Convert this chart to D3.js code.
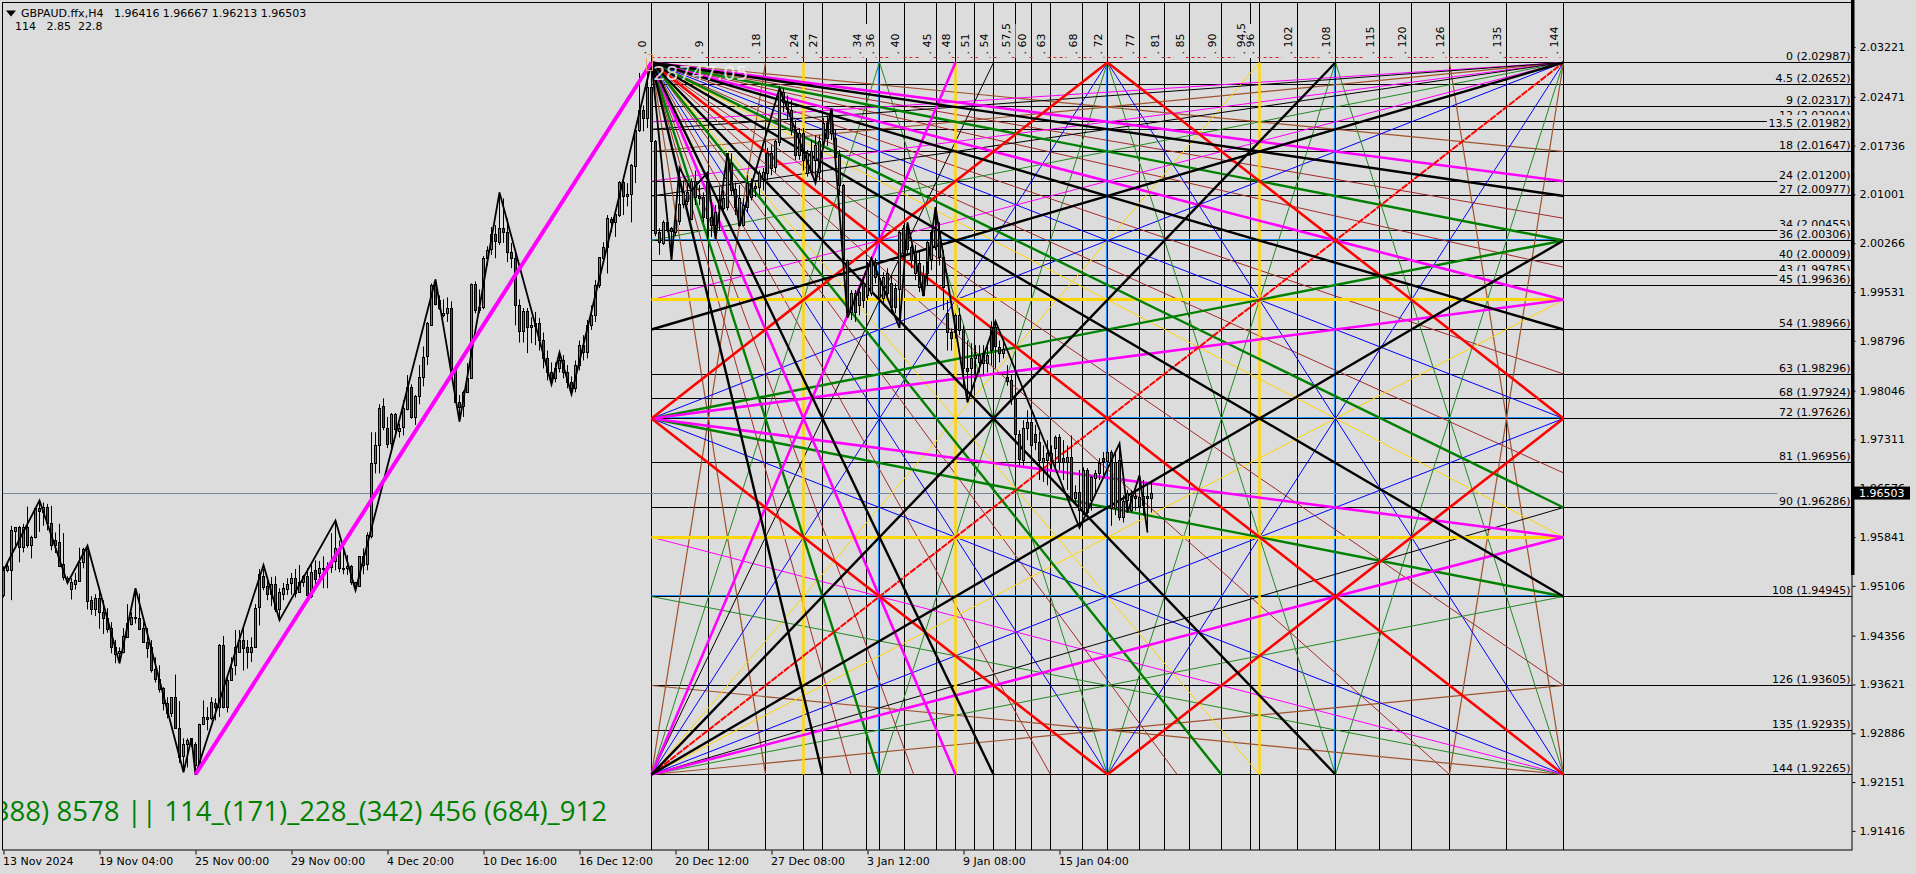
<!DOCTYPE html>
<html><head><meta charset="utf-8">
<script src="https://cdn.jsdelivr.net/npm/d3@7/dist/d3.min.js"></script>
<style>
html,body{margin:0;padding:0;background:#dcdcdc;overflow:hidden}
svg{display:block}
text{font-family:'DejaVu Sans',sans-serif;font-size:11px;fill:#000}
</style></head><body><svg id="c" width="1916" height="874"></svg>
<script>
// Candles, in 1/10000 of a price unit, one entry per H4 bar
const opens=[19497,19534,19534,19592,19598,19568,19598,19571,19583,19627,19621,19628,
19604,19579,19576,19542,19522,19505,19513,19518,19546,19566,19489,19475,
19492,19471,19462,19447,19418,19408,19411,19433,19453,19463,19462,19447,
19426,19417,19385,19370,19356,19334,19319,19343,19296,19253,19271,19280,
19271,19239,19302,19313,19311,19334,19328,19421,19328,19368,19391,19411,
19429,19418,19411,19418,19477,19525,19509,19497,19512,19474,19498,19505,
19515,19522,19500,19515,19524,19495,19533,19530,19537,19536,19539,19548,
19567,19537,19536,19539,19515,19510,19555,19542,19585,19695,19722,19780,
19748,19724,19768,19743,19748,19777,19810,19765,19796,19825,19855,19903,
19963,19941,19918,19921,19929,19838,19787,19781,19802,19823,19965,19926,
19930,20004,20016,20039,20027,20048,20042,20013,20004,19933,19894,19924,
19900,19902,19906,19880,19853,19832,19823,19838,19850,19832,19817,19808,
19843,19873,19862,19903,19918,19963,20004,20020,20063,20058,20069,20118,
20097,20100,20143,20197,20227,20215,20261,20180,20042,20027,20058,20048,
20043,20060,20085,20103,20063,20120,20097,20096,20118,20066,20054,20091,
20079,20081,20147,20108,20054,20054,20081,20117,20112,20111,20124,20132,
20162,20140,20179,20253,20238,20227,20197,20159,20192,20132,20133,20152,
20132,20179,20207,20227,20185,20159,20113,20001,19923,19951,19933,19966,
19948,19951,19998,19974,19944,19981,19966,19959,19956,20049,20051,20020,
19981,19996,19978,19981,20001,20046,20042,20005,19921,19892,19892,19896,
19896,19838,19838,19853,19847,19861,19846,19899,19899,19870,19861,19825,
19820,19792,19738,19700,19748,19757,19739,19727,19697,19700,19710,19718,
19734,19703,19697,19704,19642,19651,19624,19685,19639,19673,19680,19703,
19698,19712,19627,19700,19614,19638,19624,19645,19644,19632,19645,19642];
const highs=[19540,19546,19601,19598,19601,19604,19630,19586,19628,19639,19636,19634,
19631,19591,19604,19590,19525,19522,19530,19568,19568,19571,19495,19498,
19504,19489,19477,19456,19429,19418,19447,19483,19471,19507,19499,19456,
19447,19429,19403,19391,19358,19343,19343,19377,19337,19281,19281,19281,
19275,19303,19338,19328,19343,19341,19423,19435,19373,19403,19444,19444,
19447,19429,19433,19483,19536,19536,19519,19524,19525,19507,19515,19522,
19530,19536,19542,19527,19537,19542,19549,19548,19555,19546,19590,19609,
19579,19564,19557,19542,19516,19555,19567,19591,19742,19742,19784,19793,
19765,19771,19771,19755,19790,19828,19814,19798,19843,19871,19908,19966,
19972,19948,19942,19945,19939,19841,19798,19805,19846,19966,19969,19957,
20007,20022,20051,20054,20103,20094,20064,20027,20016,19942,19929,19929,
19915,19923,19914,19892,19865,19847,19847,19862,19858,19843,19826,19850,
19880,19888,19911,19933,19971,20005,20028,20069,20066,20072,20120,20121,
20117,20146,20200,20283,20234,20287,20299,20182,20049,20061,20066,20051,
20067,20140,20121,20121,20124,20136,20114,20103,20133,20087,20084,20111,
20106,20162,20162,20118,20114,20094,20129,20124,20118,20136,20140,20170,
20174,20182,20260,20260,20249,20242,20212,20200,20200,20167,20182,20189,
20189,20215,20219,20230,20197,20167,20116,20002,19956,19956,19963,19974,
19998,20004,20004,19986,19983,19989,19977,19966,20046,20054,20058,20024,
20024,20016,19993,20031,20046,20081,20058,20016,19941,19898,19921,19929,
19903,19880,19876,19873,19873,19873,19877,19909,19909,19880,19877,19843,
19828,19798,19745,19760,19775,19775,19753,19742,19722,19730,19722,19737,
19739,19730,19722,19737,19662,19685,19689,19688,19676,19685,19703,19712,
19715,19715,19710,19725,19647,19655,19655,19655,19677,19670,19662,19667];
const lows=[19493,19531,19489,19571,19546,19561,19568,19552,19582,19592,19601,19594,
19564,19560,19539,19519,19515,19490,19505,19518,19537,19475,19467,19465,
19446,19438,19440,19409,19394,19394,19409,19432,19451,19454,19444,19425,
19402,19380,19365,19350,19323,19311,19313,19295,19244,19230,19237,19268,
19226,19233,19301,19293,19308,19308,19313,19326,19320,19368,19376,19411,
19383,19386,19396,19417,19451,19504,19489,19480,19471,19459,19489,19497,
19497,19493,19500,19509,19492,19492,19505,19519,19507,19507,19530,19534,
19531,19528,19527,19512,19504,19509,19528,19534,19582,19680,19680,19745,
19718,19718,19741,19734,19737,19775,19762,19753,19784,19811,19843,19902,
19933,19926,19915,19908,19834,19786,19758,19765,19801,19822,19921,19921,
19927,19993,20009,20004,20024,20027,19998,19989,19903,19877,19877,19861,
19876,19873,19865,19838,19820,19814,19817,19832,19823,19808,19799,19802,
19835,19850,19853,19896,19908,19959,20001,19981,20043,20036,20066,20069,
20082,20058,20117,20194,20195,20200,20174,20037,20009,20024,20043,20001,
20037,20054,20079,20084,20061,20084,20084,20058,20031,20036,20033,20046,
20069,20076,20099,20069,20052,20052,20073,20091,20096,20099,20106,20121,
20129,20133,20173,20224,20212,20189,20152,20152,20136,20127,20129,20117,
20121,20173,20173,20182,20144,20099,19993,19914,19911,19908,19918,19929,
19941,19947,19966,19938,19933,19941,19921,19921,19899,20001,20009,19989,
19971,19953,19947,19963,19986,20016,19993,19926,19865,19865,19883,19888,
19812,19787,19798,19820,19832,19828,19832,19843,19838,19847,19853,19812,
19783,19730,19692,19692,19730,19715,19715,19670,19667,19662,19685,19688,
19685,19670,19655,19639,19632,19598,19617,19618,19624,19647,19670,19677,
19685,19601,19617,19609,19606,19621,19621,19624,19621,19617,19591,19621];
const closes=[19534,19540,19594,19598,19568,19598,19571,19583,19627,19622,19628,19604,
19571,19571,19540,19522,19518,19515,19519,19546,19566,19487,19475,19492,
19471,19462,19446,19418,19408,19411,19435,19454,19463,19462,19446,19426,
19417,19383,19370,19355,19334,19319,19343,19296,19253,19271,19277,19271,
19239,19302,19313,19310,19335,19328,19421,19328,19368,19386,19418,19429,
19417,19411,19418,19477,19527,19509,19497,19512,19474,19500,19507,19513,
19522,19500,19515,19524,19495,19531,19519,19537,19536,19539,19548,19567,
19537,19536,19539,19515,19509,19555,19542,19586,19695,19722,19778,19748,
19724,19768,19745,19748,19777,19810,19765,19796,19825,19855,19905,19963,
19935,19929,19921,19929,19837,19787,19779,19802,19823,19965,19926,19930,
20004,20016,20039,20028,20048,20042,20012,20004,19933,19894,19924,19900,
19903,19906,19880,19853,19832,19823,19838,19850,19832,19817,19808,19843,
19873,19862,19903,19918,19963,20005,20020,20064,20058,20070,20118,20097,
20100,20144,20197,20227,20215,20261,20179,20042,20027,20058,20048,20043,
20061,20085,20103,20090,20120,20096,20094,20066,20064,20054,20073,20079,
20094,20162,20106,20081,20094,20084,20117,20096,20109,20132,20133,20162,
20140,20179,20257,20238,20227,20197,20159,20192,20152,20162,20164,20174,
20179,20207,20185,20192,20156,20114,20001,19923,19951,19923,19953,19941,
19989,20001,19975,19945,19975,19951,19930,19930,20042,20012,20016,20001,
20012,19960,19948,20027,20042,20020,20005,19960,19892,19883,19918,19918,
19838,19834,19853,19858,19858,19846,19858,19865,19870,19861,19867,19819,
19792,19738,19700,19748,19757,19722,19727,19700,19703,19710,19703,19734,
19697,19697,19704,19642,19651,19624,19685,19621,19673,19680,19695,19698,
19712,19628,19697,19614,19638,19649,19645,19642,19630,19645,19642,19650];

// ZigZag indicator vertices
const zigBars=[0,9,16,21,29,33,45,47,48,65,69,83,88,108,114,124,137,139,142,162,167,169,172,176,178,181,184,194,203,207,211,217,224,226,230,233,241,248,269,279,281,284,286];
const zigPrices=[19534,19639,19515,19571,19394,19507,19230,19281,19226,19542,19459,19609,19504,19972,19758,20103,19814,19862,19799,20299,20001,20140,20106,20133,20033,20162,20052,20260,20117,20230,19914,20004,19899,20058,19947,20081,19787,19909,19598,19725,19621,19677,19591];

// The swing that the square is built on
const swingBars=[48,162];
const swingPrices=[1.92265,2.02987];

// Square levels
const levelNames=[0,4.5,9,12,13.5,18,24,27,34,36,40,43,45,54,63,68,72,81,90,108,126,135,144];
const levelPrices=["2.02987","2.02652","2.02317","2.02094","2.01982","2.01647","2.01200","2.00977","2.00455","2.00306","2.00009","1.99785","1.99636","1.98966","1.98296","1.97924","1.97626","1.96956","1.96286","1.94945","1.93605","1.92935","1.92265"];
const timeLevels=[0,9,18,24,27,34,36,40,45,48,51,54,57.5,60,63,68,72,77,81,85,90,94.5,96,102,108,115,120,126,135,144];
const yellowBands=[48,96];
const blueBands=[36,72,108];
const yellowColumns=[24,48,96];
const blueColumns=[36,72,108];

// Fan lines of the square: [from column, from level, to column, to level]
const brownFan=[[0,144,18,0],[0,144,144,126],[0,0,18,144],[0,0,144,18],[144,0,0,18],[144,0,126,144],[144,144,0,126],[144,144,126,0]];
const maroonFan=[[0,0,144,31.5],[0,0,144,41.4],[0,0,144,63],[0,0,144,83],[0,0,144,126],[0,0,31.5,144],[0,0,41.4,144],[0,0,63,144],[0,0,83,144],[0,0,126,144]];
const greenFan=[[0,144,36,0],[0,144,144,108],[144,0,0,36],[144,0,108,144],[144,144,0,108],[144,144,108,0],[72,0,36,144],[72,0,108,144],[72,144,36,0],[72,144,108,0]];
const greenHeavyFan=[[0,0,144,36],[0,0,36,144],[0,0,144,90],[0,0,90,144],[0,72,144,36],[0,72,144,108]];
const magentaFan=[[144,0,0,12],[144,0,0,24],[144,0,0,48],[144,144,0,96]];
const magentaHeavyFan=[[0,0,144,24],[0,0,144,48],[0,0,48,144],[0,144,48,0],[0,144,144,96],[0,72,144,48],[0,72,144,96]];
const blackFan=[[0,144,54,0],[0,144,144,90],[144,0,0,13.5],[144,0,0,27]];
const blackHeavyFan=[[0,0,144,27],[0,0,27,144],[0,0,144,54],[0,0,54,144],[0,0,144,108],[0,0,108,144],[0,144,108,0],[0,144,144,36],[144,0,0,54]];
const blueFan=[[0,144,72,0],[0,144,144,72],[0,0,72,144],[0,0,144,72],[144,0,0,72],[144,0,72,144],[144,144,0,72],[144,144,72,0]];
const yellowFan=[[0,144,96,0],[0,144,144,48],[0,0,96,144],[0,0,144,96]];
const redFan=[[0,0,144,144],[0,72,72,0],[0,72,72,144],[72,0,144,72],[72,144,144,72]];
const redDashFan=[[0,144,144,0]];

// Axes
const priceTicks=[2.03221,2.02471,2.01736,2.01001,2.00266,1.99531,1.98796,1.98046,1.97311,1.96576,1.95841,1.95106,1.94356,1.93621,1.92886,1.92151,1.91416];
const timeTickBars=[0,24,48,72,96,120,144,168,192,216,240,264];
const timeTickLabels=["13 Nov 2024","19 Nov 04:00","25 Nov 00:00","29 Nov 00:00","4 Dec 20:00","10 Dec 16:00","16 Dec 12:00","20 Dec 12:00","27 Dec 08:00","3 Jan 12:00","9 Jan 08:00","15 Jan 04:00"];
const lastPrice=1.96503;
const headerLine="GBPAUD.ffx,H4   1.96416 1.96667 1.96213 1.96503";
const subLine="114   2.85  22.8";
const bigNote="388) 8578 || 114_(171)_228_(342) 456 (684)_912";
const peakNote="28747.05";

const svg=d3.select("#c");
const x=d3.scaleLinear().domain([0,287]).range([3.5,3.5+4*287]);
const y=d3.scaleLinear().domain([2.02987,1.92265]).range([62.5,774.5]);
const gx=d3.scaleLinear().domain([0,144]).range([x(162),x(162+228)]);
const gy=d3.scaleLinear().domain([0,144]).range([y(2.02987),y(1.92265)]);
const crisp=v=>Math.floor(v)+.5;
const RIGHT=1852, BOTTOM=850;

svg.append("defs").append("clipPath").attr("id","plot").append("rect").attr("x",3).attr("y",3).attr("width",RIGHT-3).attr("height",BOTTOM-3);
const plot=svg.append("g").attr("clip-path","url(#plot)");

// grid lines
const lv=levelPrices.map(Number);
plot.append("g").selectAll("line").data(lv).join("line")
 .attr("x1",gx(0)).attr("x2",RIGHT).attr("y1",d=>crisp(y(d))).attr("y2",d=>crisp(y(d))).attr("stroke","#000");
plot.append("g").selectAll("line").data(timeLevels).join("line")
 .attr("x1",d=>crisp(gx(d))).attr("x2",d=>crisp(gx(d))).attr("y1",3).attr("y2",BOTTOM).attr("stroke","#000");
plot.append("line").attr("x1",3).attr("x2",RIGHT).attr("y1",crisp(y(lastPrice))).attr("y2",crisp(y(lastPrice))).attr("stroke","#778899");

// coloured bands
const hband=(data,col,w,off)=>plot.append("g").selectAll("line").data(data).join("line")
 .attr("x1",gx(0)).attr("x2",gx(144)).attr("y1",d=>crisp(gy(d))+off).attr("y2",d=>crisp(gy(d))+off).attr("stroke",col).attr("stroke-width",w);
const vband=(data,col,w,off)=>plot.append("g").selectAll("line").data(data).join("line")
 .attr("y1",gy(0)).attr("y2",gy(144)).attr("x1",d=>crisp(gx(d))+off).attr("x2",d=>crisp(gx(d))+off).attr("stroke",col).attr("stroke-width",w);
hband(blueBands,"#1e90ff",1.2,-1); vband(blueColumns,"#1e90ff",1.2,-1);

// fans
const fan=(data,col,w,dash)=>plot.append("g").selectAll("line").data(data).join("line")
 .attr("x1",d=>gx(d[0])).attr("y1",d=>gy(d[1])).attr("x2",d=>gx(d[2])).attr("y2",d=>gy(d[3]))
 .attr("stroke",col).attr("stroke-width",w).attr("stroke-dasharray",dash||null);
fan(maroonFan,"#a52a2a",1);
fan(brownFan,"#a0522d",1.2);
fan(yellowFan,"#ffd700",1);
fan(blueFan,"#0000ff",1);
fan(greenFan,"#228b22",1);
fan(magentaFan,"#ff00ff",1);
fan(blackFan,"#000",1);
hband(yellowBands,"#ffd700",3,0); vband(yellowColumns,"#ffd700",2.5,0);
fan(greenHeavyFan,"#008000",2.4);
fan(magentaHeavyFan,"#ff00ff",2.6);
fan(redDashFan,"#ff0000",2,"7 1");
fan(redFan,"#ff0000",2.6);
fan(blackHeavyFan,"#000",2.4);

// dashed ruler over the square
plot.append("line").attr("x1",gx(0)).attr("x2",gx(144)).attr("y1",57.5).attr("y2",57.5).attr("stroke","#e02020").attr("stroke-dasharray","3 3");

// candles
const bars=d3.range(opens.length);
const pr=v=>y(v/10000);
const candles=plot.append("g");
candles.selectAll("line").data(bars).join("line")
 .attr("x1",i=>x(i)).attr("x2",i=>x(i)).attr("y1",i=>pr(highs[i])).attr("y2",i=>pr(lows[i])).attr("stroke","#000");
candles.selectAll("rect").data(bars).join("rect")
 .attr("x",i=>x(i)-1).attr("width",2)
 .attr("y",i=>crisp(Math.min(pr(opens[i]),pr(closes[i]))))
 .attr("height",i=>Math.max(1,Math.round(Math.abs(pr(opens[i])-pr(closes[i])))))
 .attr("fill",i=>closes[i]>=opens[i]?"#32a532":"#ff0000").attr("stroke","#000");

// zigzag and swing
const line=d3.line().x(d=>x(d[0])).y(d=>d[1]);
plot.append("path").attr("d",line(zigBars.map((b,i)=>[b,pr(zigPrices[i])]))).attr("fill","none").attr("stroke","#000").attr("stroke-width",1.8);
plot.append("path").attr("d",line(swingBars.map((b,i)=>[b,y(swingPrices[i])]))).attr("fill","none").attr("stroke","#ff00ff").attr("stroke-width",4);

// marker at the peak
plot.append("rect").attr("x",646.5).attr("y",54.5).attr("width",6).attr("height",16).attr("fill","none").attr("stroke","#e8a070");
plot.append("text").attr("x",653).attr("y",80).style("fill","#f4f4f4").style("fill-opacity",.85).style("font-size","20px").text(peakNote);

// column labels
const colG=plot.append("g");
timeLevels.slice().reverse().forEach(u=>{
  const gxv=crisp(gx(u));
  colG.append("rect").attr("x",gxv-16).attr("y",24).attr("width",12).attr("height",34).attr("fill","#dcdcdc");
  colG.append("text").attr("transform",`translate(${gxv-6},54.5) rotate(-90)`).text(". "+String(u).replace(".",","));
});

// level labels
const labG=plot.append("g");
levelNames.forEach((n,i)=>{
  const yy=crisp(y(lv[i]));
  const t=labG.append("text").attr("x",RIGHT-1.5).attr("y",yy-2.5).attr("text-anchor","end").text(`${n} (${levelPrices[i]})`);
  const w=t.node().getComputedTextLength();
  labG.insert("rect","text:last-child").attr("x",RIGHT-3-w).attr("y",yy-14.5).attr("width",w+3).attr("height",14).attr("fill","#dcdcdc");
});

// big note
plot.append("text").attr("x",607).attr("y",821).attr("text-anchor","end").style("fill","#008000").style("font-family","'Open Sans'").style("font-size","27.6px").text(bigNote);

// header
plot.append("path").attr("d","M6,10.5h10l-5,6z").attr("fill","#000");
plot.append("text").attr("x",21).attr("y",17).style("white-space","pre").text(headerLine);
plot.append("text").attr("x",15).attr("y",30).style("white-space","pre").text(subLine);

// frame
svg.append("rect").attr("x",2.5).attr("y",2.5).attr("width",RIGHT-2.5).attr("height",BOTTOM-2.5).attr("fill","none").attr("stroke","#000");
svg.append("rect").attr("x",1851).attr("y",0).attr("width",3.5).attr("height",575).attr("fill","#000");

// axes
const yAxis=d3.axisRight(y).tickValues(priceTicks).tickFormat(d3.format(".5f")).tickSize(3).tickPadding(4);
const yG=svg.append("g").attr("transform",`translate(${RIGHT+.5},0)`).call(yAxis);
yG.select(".domain").remove();
yG.selectAll("text").style("font-size","11px");
const xAxis=d3.axisBottom(x).tickValues(timeTickBars).tickFormat((d,i)=>timeTickLabels[i]).tickSize(4).tickPadding(3);
const xG=svg.append("g").attr("transform",`translate(0,${BOTTOM+.5})`).call(xAxis);
xG.select(".domain").remove();
xG.selectAll("text").attr("text-anchor","start").attr("dx",-1).style("font-size","11px");

// last price tag
const ty=y(lastPrice);
svg.append("rect").attr("x",1853).attr("y",ty-6.5).attr("width",57).attr("height",13).attr("fill","#000");
svg.append("text").attr("x",1859).attr("y",ty+4).style("fill","#fff").text(d3.format(".5f")(lastPrice));
</script></body></html>
